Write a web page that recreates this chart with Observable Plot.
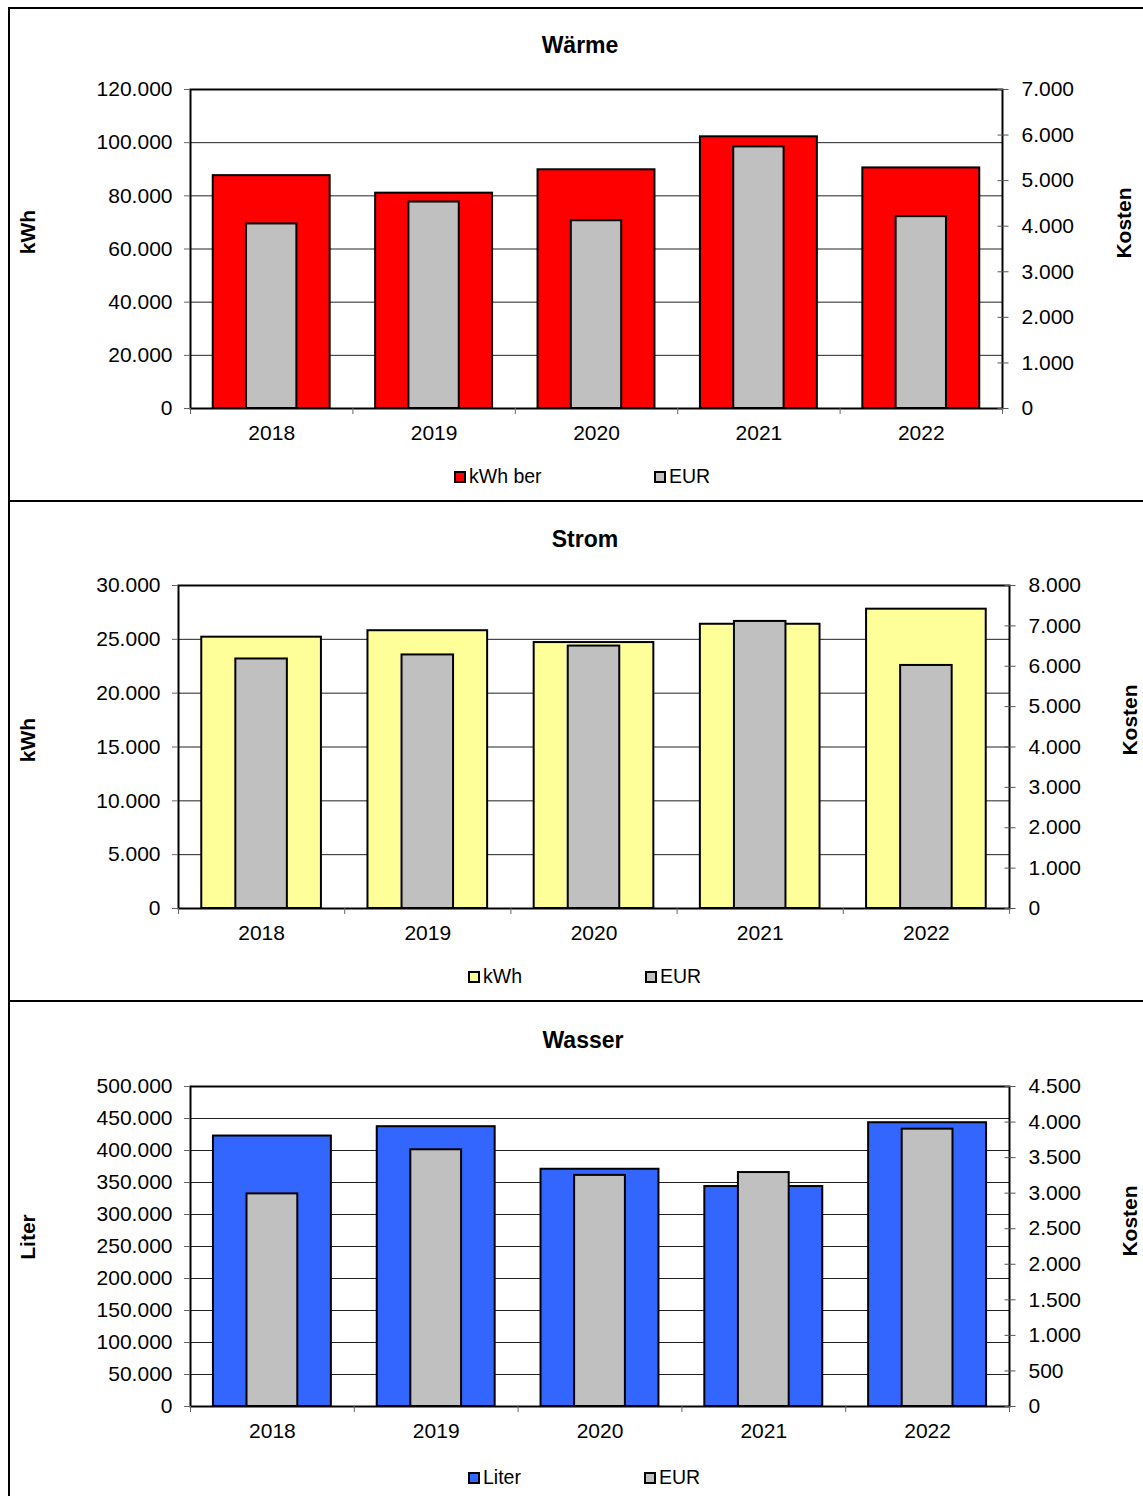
<!DOCTYPE html>
<html>
<head>
<meta charset="utf-8">
<script src="https://cdn.jsdelivr.net/npm/d3@7"></script>
<script src="https://cdn.jsdelivr.net/npm/@observablehq/plot@0.6"></script>
<style>
  html, body { margin: 0; padding: 0; background: #fff; }
  body { font-family: "Liberation Sans", Arial, sans-serif; }
  #page { position: relative; width: 1143px; height: 1496px; overflow: hidden; }
  .hline { position: absolute; background: #000; height: 2px; }
  .vline { position: absolute; background: #000; width: 2px; }
  .title { position: absolute; font-weight: bold; font-size: 23px; line-height: 1; transform: translate(-50%, -50%); white-space: nowrap; }
  .ylab { position: absolute; font-weight: bold; font-size: 21px; line-height: 1; transform: translate(-50%, -50%) rotate(-90deg); white-space: nowrap; }
  .legtext { position: absolute; font-size: 19.5px; line-height: 1; transform: translateY(-50%); white-space: nowrap; }
  .swatch { position: absolute; width: 12px; height: 12px; box-sizing: border-box; border: 2px solid #000; }
  svg { position: absolute; left: 0; }
</style>
</head>
<body>
<div id="page"></div>
<script>
// ---------- data ----------
const years = ["2018", "2019", "2020", "2021", "2022"];

const waermeKwh = [87600, 81000, 89800, 102200, 90500];
const waermeEur = [4050, 4530, 4120, 5740, 4210];

const stromKwh = [25200, 25800, 24700, 26400, 27800];
const stromEur = [6180, 6280, 6500, 7110, 6020];

const wasserLiter = [422600, 437200, 370700, 343700, 443400];
const wasserEur = [2990, 3610, 3250, 3290, 3900];

// axis tick definitions [max, step]
const waermeLeftAxis = [120000, 20000];
const waermeRightAxis = [7000, 1000];
const stromLeftAxis = [30000, 5000];
const stromRightAxis = [8000, 1000];
const wasserLeftAxis = [500000, 50000];
const wasserRightAxis = [4500, 500];

// ---------- helpers ----------
const fmt = d3.formatLocale({decimal: ",", thousands: ".", grouping: [3], currency: ["", "€"]}).format(",d");
const page = document.getElementById("page");

function el(cls, text, css) {
  const d = document.createElement("div");
  d.className = cls;
  if (text != null) d.textContent = text;
  Object.assign(d.style, css);
  page.appendChild(d);
  return d;
}

function panel(cfg) {
  const {values, eur, leftAxis, rightAxis, colour, top, height, fx0, fx1, fy0, fy1} = cfg;
  const [leftMax, leftStep] = leftAxis;
  const [rightMax, rightStep] = rightAxis;
  const ratio = leftMax / rightMax;
  const leftTicks = d3.range(0, leftMax + 1, leftStep);
  const rightTicks = d3.range(0, rightMax + 1, rightStep);
  const rows = years.map((year, i) => ({year, i, value: values[i], eur: eur[i]}));
  const W = 1143;

  const svg = Plot.plot({
    width: W,
    height: height,
    marginLeft: fx0,
    marginRight: W - fx1,
    marginTop: fy0 - top,
    marginBottom: top + height - fy1,
    x: {type: "linear", domain: [0, years.length], axis: null},
    y: {type: "linear", domain: [0, leftMax], axis: null},
    style: {fontFamily: "'Liberation Sans', Arial, sans-serif", fontSize: "21px", background: "transparent", overflow: "visible"},
    marks: [
      Plot.ruleY(leftTicks.slice(1, -1), {stroke: "#222", strokeWidth: 1}),
      Plot.rect(rows, {x1: d => d.i + 0.14, x2: d => d.i + 0.86, y1: 0, y2: "value", fill: colour, stroke: "#000", strokeWidth: 2}),
      Plot.rect(rows, {x1: d => d.i + 0.345, x2: d => d.i + 0.655, y1: 0, y2: d => d.eur * ratio, fill: "#C0C0C0", stroke: "#000", strokeWidth: 2}),
      Plot.frame({stroke: "#000", strokeWidth: 2}),
      // left axis
      Plot.axisY(leftTicks, {anchor: "left", tickSize: 6, tickFormat: () => "", stroke: "#666", label: null}),
      Plot.axisY(leftTicks, {anchor: "left", tickSize: 0, tickPadding: 18, tickFormat: fmt, label: null}),
      // right axis (ticks crossing the frame)
      Plot.axisY(rightTicks.map(v => v * ratio), {anchor: "right", tickSize: 11, dx: -5.5, tickFormat: () => "", stroke: "#555", label: null}),
      Plot.axisY(rightTicks.map(v => v * ratio), {anchor: "right", tickSize: 0, tickPadding: 19, tickFormat: v => fmt(Math.round(v / ratio)), label: null}),
      // x axis: category boundary ticks and centred year labels
      Plot.axisX(d3.range(0, years.length + 1), {anchor: "bottom", tickSize: 6, tickFormat: () => "", stroke: "#666", label: null}),
      Plot.axisX(years.map((y, i) => i + 0.5), {anchor: "bottom", tickSize: 0, tickPadding: 17, tickFormat: v => years[Math.floor(v)], fontSize: 21, label: null})
    ]
  });
  svg.style.top = top + "px";
  page.appendChild(svg);

  el("title", cfg.title, {left: cfg.titleX + "px", top: cfg.titleY + "px"});
  el("ylab", cfg.yLabel, {left: cfg.yLabX + "px", top: cfg.yLabY + "px"});
  el("ylab", "Kosten", {left: cfg.kLabX + "px", top: cfg.kLabY + "px"});
  // legend
  el("swatch", null, {left: cfg.leg1X + "px", top: (cfg.legY - 6) + "px", background: colour});
  el("legtext", cfg.legendName, {left: (cfg.leg1X + 15) + "px", top: cfg.legY + "px"});
  el("swatch", null, {left: cfg.leg2X + "px", top: (cfg.legY - 6) + "px", background: "#C0C0C0"});
  el("legtext", "EUR", {left: (cfg.leg2X + 15) + "px", top: cfg.legY + "px"});
}

// outer frame lines
el("vline", null, {left: "8px", top: "7px", height: "1489px"});
el("hline", null, {left: "8px", top: "7px", width: "1135px"});
el("hline", null, {left: "8px", top: "500px", width: "1135px"});
el("hline", null, {left: "8px", top: "1000px", width: "1135px"});

panel({
  title: "Wärme", yLabel: "kWh", legendName: "kWh ber",
  values: waermeKwh, eur: waermeEur, leftAxis: waermeLeftAxis, rightAxis: waermeRightAxis,
  colour: "#FF0000",
  top: 9, height: 491, fx0: 190, fx1: 1002, fy0: 89, fy1: 408,
  titleX: 580, titleY: 45, yLabX: 27, yLabY: 232, kLabX: 1123, kLabY: 223,
  leg1X: 454, leg2X: 654, legY: 477
});

panel({
  title: "Strom", yLabel: "kWh", legendName: "kWh",
  values: stromKwh, eur: stromEur, leftAxis: stromLeftAxis, rightAxis: stromRightAxis,
  colour: "#FFFF99",
  top: 503, height: 497, fx0: 178, fx1: 1009, fy0: 585, fy1: 908,
  titleX: 585, titleY: 539, yLabX: 27, yLabY: 740, kLabX: 1129, kLabY: 720,
  leg1X: 468, leg2X: 645, legY: 977
});

panel({
  title: "Wasser", yLabel: "Liter", legendName: "Liter",
  values: wasserLiter, eur: wasserEur, leftAxis: wasserLeftAxis, rightAxis: wasserRightAxis,
  colour: "#3366FF",
  top: 1003, height: 493, fx0: 190, fx1: 1009, fy0: 1086, fy1: 1406,
  titleX: 583, titleY: 1040, yLabX: 27, yLabY: 1237, kLabX: 1129, kLabY: 1221,
  leg1X: 468, leg2X: 644, legY: 1478
});
</script>
</body>
</html>
